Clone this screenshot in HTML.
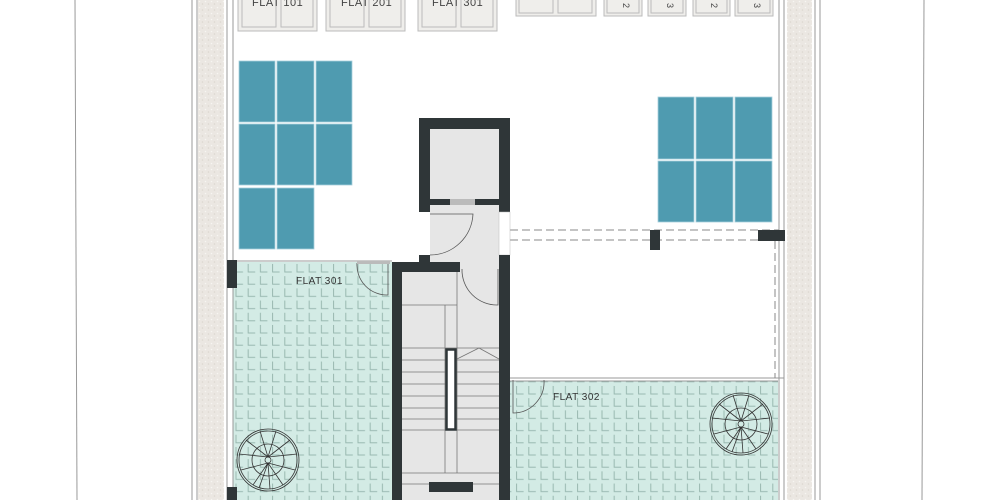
<!DOCTYPE html>
<html><head><style>html,body{margin:0;padding:0;background:#fff}svg{display:block}</style></head><body>
<svg width="1000" height="500" viewBox="0 0 1000 500" xmlns="http://www.w3.org/2000/svg" font-family="Liberation Sans, sans-serif">
<defs>
<pattern id="tile" x="233" y="262" width="12.2" height="12.2" patternUnits="userSpaceOnUse">
<rect width="12.2" height="12.2" fill="#d3ebe5"/>
<path d="M3 2 V10 H10" fill="none" stroke="#98b8b0" stroke-width="1"/>
</pattern>
<pattern id="grit" width="6" height="6" patternUnits="userSpaceOnUse">
<rect width="6" height="6" fill="#ebe7e2"/>
<circle cx="1.5" cy="1.5" r="0.8" fill="#f7f5f2"/><circle cx="4.5" cy="4" r="0.8" fill="#dcd7d0"/>
</pattern>
</defs>
<rect width="1000" height="500" fill="#fff"/>
<line x1="75" y1="0" x2="77" y2="500" stroke="#999" stroke-width="1"/>
<line x1="924" y1="0" x2="922" y2="500" stroke="#999" stroke-width="1"/>
<line x1="192" y1="0" x2="192" y2="500" stroke="#999"/>
<line x1="197" y1="0" x2="197" y2="500" stroke="#999"/>
<rect x="198" y="0" width="26" height="500" fill="url(#grit)"/>
<line x1="227" y1="0" x2="227" y2="500" stroke="#999"/>
<line x1="233" y1="0" x2="233" y2="262" stroke="#999"/>
<line x1="779" y1="0" x2="779" y2="500" stroke="#999"/>
<line x1="784" y1="0" x2="784" y2="500" stroke="#999"/>
<rect x="787" y="0" width="25" height="500" fill="url(#grit)"/>
<line x1="815" y1="0" x2="815" y2="500" stroke="#999"/>
<line x1="820" y1="0" x2="820" y2="500" stroke="#999"/>
<g fill="#efeeeb" stroke="#bbb" stroke-width="1">
<rect x="238" y="-2" width="79" height="33"/><rect x="242" y="-2" width="34" height="29"/><rect x="281" y="-2" width="32" height="29"/>
<rect x="326" y="-2" width="79" height="33"/><rect x="330" y="-2" width="34" height="29"/><rect x="369" y="-2" width="32" height="29"/>
<rect x="418" y="-2" width="79" height="33"/><rect x="422" y="-2" width="34" height="29"/><rect x="461" y="-2" width="32" height="29"/>
<rect x="516" y="-2" width="80" height="18"/><rect x="519" y="-2" width="34" height="15"/><rect x="558" y="-2" width="34" height="15"/>
<rect x="604" y="-2" width="38" height="18"/><rect x="607" y="-2" width="32" height="15"/>
<rect x="648" y="-2" width="38" height="18"/><rect x="651" y="-2" width="32" height="15"/>
<rect x="693" y="-2" width="37" height="18"/><rect x="696" y="-2" width="31" height="15"/>
<rect x="735" y="-2" width="38" height="18"/><rect x="738" y="-2" width="32" height="15"/>
</g>
<g font-size="11" fill="#444" letter-spacing="0.5">
<text x="252" y="6">FLAT 101</text><text x="341" y="6">FLAT 201</text><text x="432" y="6">FLAT 301</text>
<text x="623" y="3" transform="rotate(90 623 3)" font-size="9">2</text>
<text x="667" y="3" transform="rotate(90 667 3)" font-size="9">3</text>
<text x="711" y="3" transform="rotate(90 711 3)" font-size="9">2</text>
<text x="754" y="3" transform="rotate(90 754 3)" font-size="9">3</text>
</g>
<g fill="#4f9bb0" stroke="#a8d0dc" stroke-width="0.8">
<rect x="239" y="61" width="36" height="61"/><rect x="277" y="61" width="37" height="61"/><rect x="316" y="61" width="36" height="61"/>
<rect x="239" y="124" width="36" height="61"/><rect x="277" y="124" width="37" height="61"/><rect x="316" y="124" width="36" height="61"/>
<rect x="239" y="188" width="36" height="61"/><rect x="277" y="188" width="37" height="61"/>
<rect x="658" y="97" width="36" height="62"/><rect x="696" y="97" width="37" height="62"/><rect x="735" y="97" width="37" height="62"/>
<rect x="658" y="161" width="36" height="61"/><rect x="696" y="161" width="37" height="61"/><rect x="735" y="161" width="37" height="61"/>
</g>
<rect x="233" y="262" width="159" height="238" fill="url(#tile)"/>
<line x1="233" y1="261" x2="392" y2="261" stroke="#999"/>
<rect x="510" y="381" width="268" height="119" fill="url(#tile)"/>
<line x1="510" y1="378" x2="784" y2="378" stroke="#999"/>
<line x1="510" y1="381" x2="778" y2="381" stroke="#999"/>
<line x1="233" y1="262" x2="233" y2="500" stroke="#999"/>
<rect x="227" y="260" width="10" height="28" fill="#2f3638"/>
<rect x="227" y="487" width="10" height="13" fill="#2f3638"/>
<g stroke="#888" stroke-dasharray="8 4" fill="none">
<line x1="510" y1="230" x2="779" y2="230"/><line x1="510" y1="240" x2="779" y2="240"/>
<line x1="775" y1="241" x2="775" y2="378"/>
</g>
<rect x="650" y="230" width="10" height="20" fill="#2f3638"/>
<rect x="758" y="230" width="27" height="11" fill="#2f3638"/>
<rect x="430" y="129" width="69" height="371" fill="#e6e6e6"/>
<rect x="402" y="272" width="97" height="228" fill="#e6e6e6"/>
<path d="M419 118 H510 V212 H499 V129 H430 V199 H499 V205 H430 V212 H419 Z" fill="#2f3638"/>
<rect x="450" y="199" width="25" height="6" fill="#bbb"/>
<rect x="499" y="212" width="11" height="43" fill="#fff" stroke="#bbb" stroke-width="0.5"/>
<rect x="499" y="255" width="11" height="245" fill="#2f3638"/>
<rect x="419" y="255" width="11" height="8" fill="#2f3638"/>
<path d="M392 262 H460 V272 H402 V500 H392 Z" fill="#2f3638"/>
<g fill="none" stroke="#555" stroke-width="0.8">
<path d="M430 214 H473 A43 43 0 0 1 430 255"/>
<path d="M462 269 A35 35 0 0 0 498 305 V269"/>
<path d="M357 263 A30 30 0 0 0 388 295 V263"/>
<path d="M544 380 A31 31 0 0 1 513 413 V380"/>
</g>
<rect x="357" y="261" width="33" height="3" fill="#bbb"/>
<g stroke="#777" stroke-width="0.8" fill="none">
<line x1="402" y1="305" x2="457" y2="305"/>
<line x1="402" y1="348" x2="499" y2="348"/>
<line x1="402" y1="360" x2="499" y2="360"/>
<line x1="402" y1="372" x2="499" y2="372"/>
<line x1="402" y1="384" x2="499" y2="384"/>
<line x1="402" y1="396" x2="499" y2="396"/>
<line x1="402" y1="408" x2="499" y2="408"/>
<line x1="402" y1="419" x2="499" y2="419"/>
<line x1="402" y1="430" x2="499" y2="430"/>
<line x1="402" y1="473" x2="499" y2="473"/>
<line x1="445" y1="305" x2="445" y2="473"/>
<line x1="457" y1="272" x2="457" y2="473"/>
<polyline points="457,359 479,348 499,359"/>
<line x1="402" y1="484" x2="429" y2="484"/><line x1="473" y1="484" x2="499" y2="484"/>
</g>
<rect x="446.5" y="349.5" width="9" height="80" fill="#fff" stroke="#2f3638" stroke-width="2.5"/>
<rect x="429" y="482" width="44" height="10" fill="#2f3638"/>
<g fill="none" stroke="#333" stroke-width="0.8">
<circle cx="268" cy="460" r="31"/><circle cx="268" cy="460" r="29"/><circle cx="268" cy="460" r="16"/><circle cx="268" cy="460" r="3"/>
<circle cx="741" cy="424" r="31"/><circle cx="741" cy="424" r="29"/><circle cx="741" cy="424" r="16"/><circle cx="741" cy="424" r="3"/>
<g id="sp" transform="translate(268 460)">
<path d="M0-3L8-29M0-3L-8-29M0-3L22-20M0-3L-22-20M0-3L29-6M0-3L-29-6M0 3L27 10M0 3L-27 10M0 3L15 25M0 3L-15 25M0 3L2 29M0 3L-9 28"/>
</g>
<use href="#sp" transform="translate(473 -36)"/>
</g>
<g font-size="10" fill="#333" letter-spacing="0.5">
<text x="296" y="284">FLAT 301</text>
<text x="553" y="400">FLAT 302</text>
</g>
</svg>
</body></html>
